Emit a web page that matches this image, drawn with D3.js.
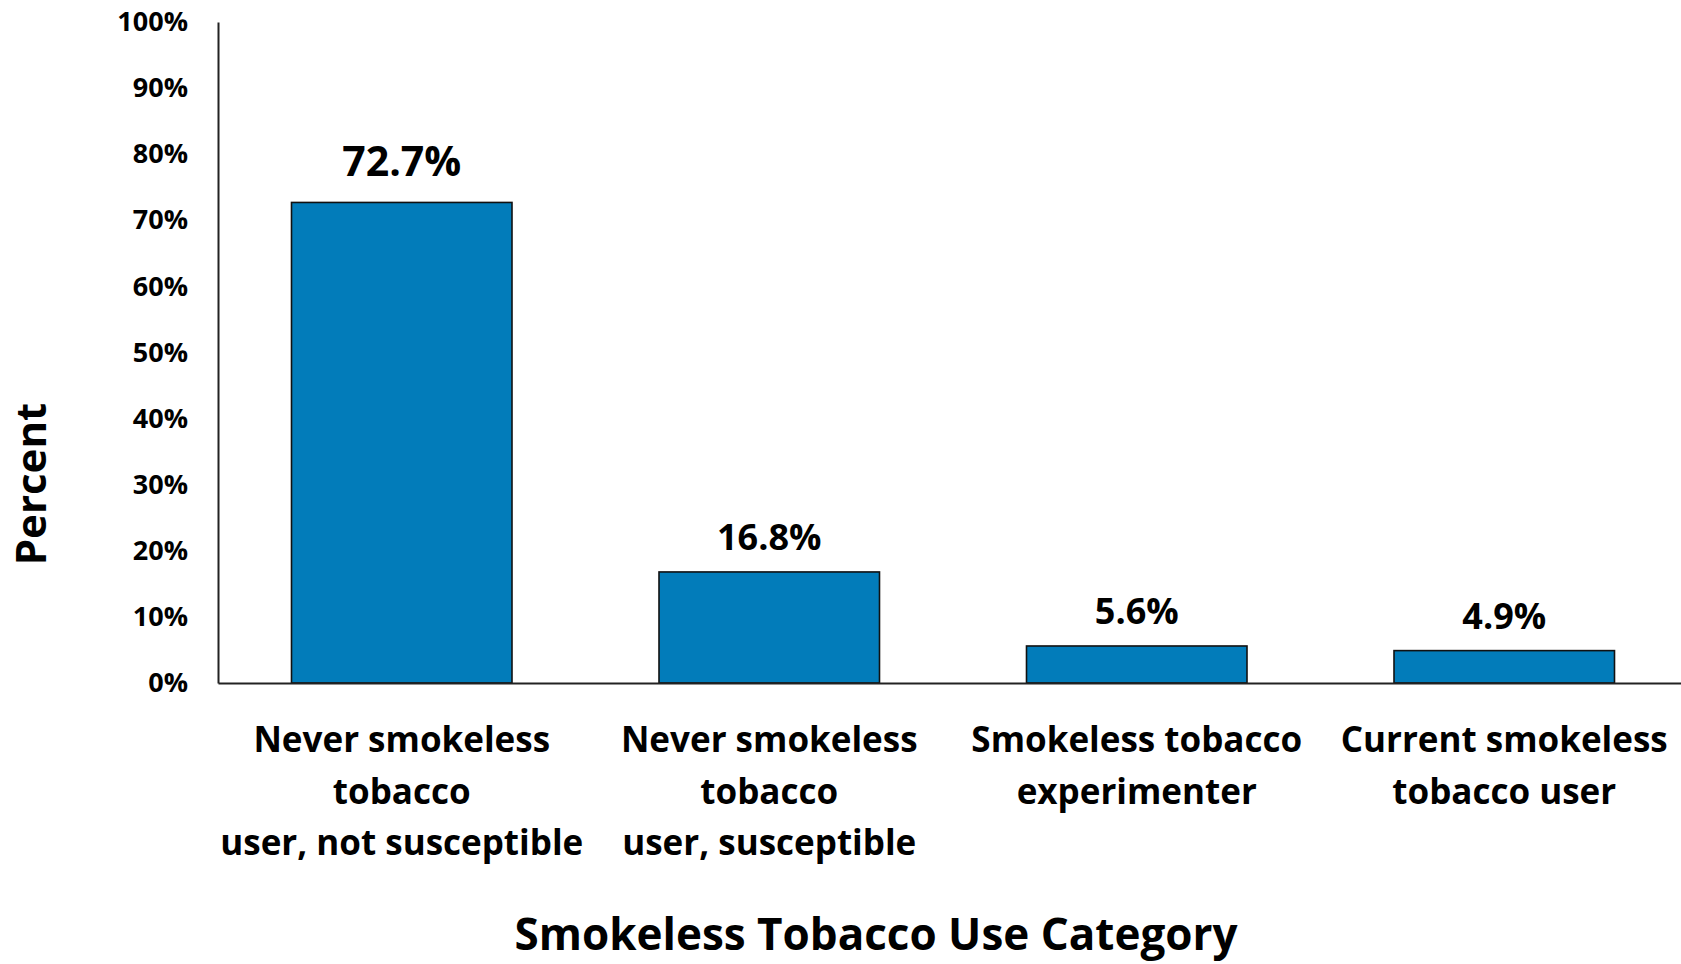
<!DOCTYPE html>
<html>
<head>
<meta charset="utf-8">
<script src="https://cdn.jsdelivr.net/npm/d3@7"></script>
<style>
  html, body { margin: 0; padding: 0; background: #fff; }
  svg { display: block; font-family: "Open Sans", "Noto Sans", sans-serif; font-weight: 700; }
</style>
</head>
<body>
<svg id="chart" width="1681" height="964"></svg>
<script>
// Smokeless tobacco use categories (multi-line labels) and their percentages
const categories = [
  ["Never smokeless", "tobacco", "user, not susceptible"],
  ["Never smokeless", "tobacco", "user, susceptible"],
  ["Smokeless tobacco", "experimenter"],
  ["Current smokeless", "tobacco user"]
];
const percents = [72.7, 16.8, 5.6, 4.9];
const valueLabels = ["72.7%", "16.8%", "5.6%", "4.9%"];
const yTicks = [0, 10, 20, 30, 40, 50, 60, 70, 80, 90, 100];

const svg = d3.select("#chart");
const plotLeft = 218, plotRight = 1688, plotTop = 22, plotBottom = 683;

const x = d3.scaleBand()
  .domain(d3.range(categories.length))
  .range([plotLeft, plotRight])
  .paddingInner(0.4)
  .paddingOuter(0.2);

const y = d3.scaleLinear().domain([0, 100]).range([plotBottom, plotTop]);

// Bars
svg.append("g").selectAll("rect")
  .data(percents)
  .join("rect")
  .attr("x", (d, i) => x(i))
  .attr("y", d => y(d))
  .attr("width", x.bandwidth())
  .attr("height", d => y(0) - y(d))
  .attr("fill", "#027cba")
  .attr("stroke", "#111")
  .attr("stroke-width", 1.6);

// Value labels above bars (largest bar gets the larger label)
svg.append("g").selectAll("text")
  .data(percents)
  .join("text")
  .attr("x", (d, i) => x(i) + x.bandwidth() / 2)
  .attr("y", (d, i) => y(d) - (i === 0 ? 26 : 22))
  .attr("text-anchor", "middle")
  .attr("font-size", (d, i) => i === 0 ? 41 : 36)
  .attr("fill", "#000")
  .text((d, i) => valueLabels[i]);

// Y axis
const yAxis = svg.append("g")
  .attr("transform", `translate(${plotLeft},0)`)
  .call(d3.axisLeft(y).tickValues(yTicks).tickSize(0).tickPadding(30).tickFormat(d => d + "%"));
yAxis.select(".domain").attr("stroke", "#222").attr("stroke-width", 2);
yAxis.selectAll("text")
  .attr("font-size", 27)
  .attr("font-family", "Open Sans, sans-serif")
  .attr("font-weight", 700)
  .attr("fill", "#000");

// X axis baseline
const xAxis = svg.append("g")
  .attr("transform", `translate(0,${plotBottom})`)
  .call(d3.axisBottom(x).tickSize(0).tickFormat(""));
xAxis.select(".domain").attr("stroke", "#222").attr("stroke-width", 2);

// Category labels
const catG = svg.append("g").selectAll("text")
  .data(categories)
  .join("text")
  .attr("text-anchor", "middle")
  .attr("font-size", 35)
  .attr("fill", "#000");
catG.selectAll("tspan")
  .data((d, i) => d.map(line => ({ line, i })))
  .join("tspan")
  .attr("x", d => x(d.i) + x.bandwidth() / 2)
  .attr("y", (d, j) => 752 + j * 51.5)
  .text(d => d.line);

// Axis titles
svg.append("text")
  .attr("x", 876)
  .attr("y", 950)
  .attr("text-anchor", "middle")
  .attr("font-size", 44)
  .attr("fill", "#000")
  .text("Smokeless Tobacco Use Category");

svg.append("text")
  .attr("transform", "translate(46,484) rotate(-90)")
  .attr("text-anchor", "middle")
  .attr("font-size", 42)
  .attr("fill", "#000")
  .text("Percent");
</script>
</body>
</html>
